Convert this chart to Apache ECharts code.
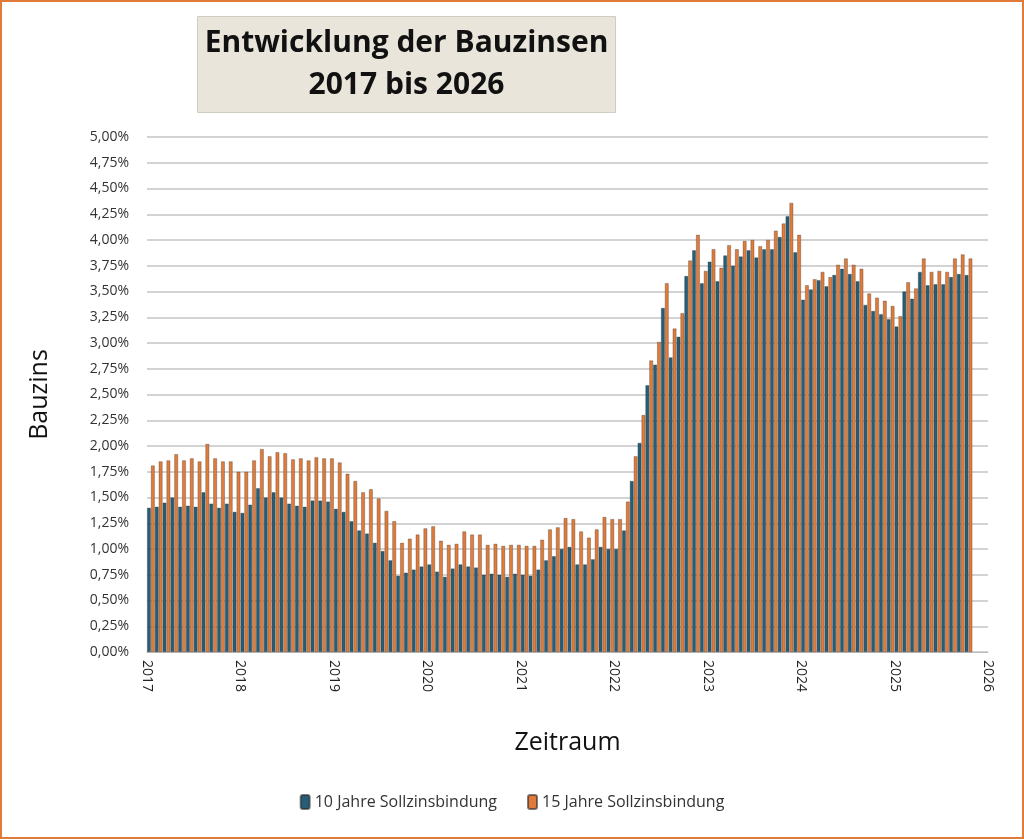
<!DOCTYPE html>
<html>
<head>
<meta charset="utf-8">
<script src="https://cdn.jsdelivr.net/npm/echarts@6/dist/echarts.min.js"></script>
<style>
  html, body { margin: 0; padding: 0; background: #fff; }
  #chart { width: 1024px; height: 839px; box-sizing: border-box; border: 2px solid #e07b39; }
</style>
</head>
<body>
<div id="chart"></div>
<script>
// Monatswerte Jan 2017 - Okt 2025 (Prozent)
var zins10 = [
  1.40,1.41,1.45,1.50,1.41,1.42,1.41,1.55,1.44,1.40,1.44,1.36,
  1.35,1.43,1.59,1.50,1.55,1.50,1.44,1.42,1.41,1.47,1.47,1.46,
  1.39,1.36,1.27,1.18,1.15,1.06,0.98,0.89,0.74,0.77,0.80,0.83,
  0.85,0.78,0.73,0.81,0.85,0.83,0.82,0.75,0.76,0.75,0.73,0.76,
  0.75,0.74,0.80,0.89,0.93,1.00,1.02,0.85,0.85,0.90,1.02,1.00,
  1.00,1.18,1.66,2.03,2.59,2.79,3.34,2.86,3.06,3.65,3.90,3.58,
  3.79,3.60,3.85,3.75,3.84,3.90,3.83,3.91,3.91,4.03,4.23,3.88,
  3.42,3.52,3.61,3.55,3.66,3.72,3.67,3.60,3.37,3.31,3.28,3.23,
  3.16,3.50,3.43,3.69,3.56,3.57,3.57,3.64,3.67,3.66
];
var zins15 = [
  1.81,1.85,1.86,1.92,1.86,1.88,1.85,2.02,1.88,1.85,1.85,1.75,
  1.75,1.86,1.97,1.90,1.94,1.93,1.87,1.88,1.86,1.89,1.88,1.88,
  1.84,1.73,1.66,1.55,1.58,1.49,1.37,1.27,1.06,1.10,1.14,1.20,
  1.22,1.08,1.04,1.05,1.17,1.14,1.14,1.04,1.05,1.03,1.04,1.04,
  1.03,1.03,1.09,1.19,1.21,1.30,1.29,1.17,1.11,1.19,1.31,1.29,
  1.29,1.46,1.90,2.30,2.83,3.01,3.58,3.14,3.29,3.80,4.05,3.70,
  3.91,3.73,3.95,3.91,3.99,4.00,3.94,4.00,4.09,4.16,4.36,4.05,
  3.56,3.62,3.69,3.64,3.76,3.82,3.76,3.72,3.48,3.44,3.41,3.36,
  3.26,3.59,3.53,3.82,3.69,3.70,3.69,3.82,3.86,3.82
];
var startYear = 2017;
var monthCount = 108;

function pairs(arr) {
  return arr.map(function (v, i) { return [i + 0.5, v]; });
}

var chart = echarts.init(document.getElementById('chart'));
var barStyle = { borderColor: 'rgba(40,40,40,0.6)', borderWidth: 0.5 };

chart.setOption({
  animation: false,
  textStyle: { fontFamily: 'Open Sans, sans-serif' },
  graphic: [{
    type: 'group', left: 195, top: 14,
    children: [
      { type: 'rect', shape: { width: 418, height: 96 },
        style: { fill: '#e9e5db', stroke: '#d0ccc2', lineWidth: 1 } },
      { type: 'text', x: 209, y: 48,
        style: { text: 'Entwicklung der Bauzinsen\n2017 bis 2026', align: 'center', verticalAlign: 'middle',
                 font: 'bold 30px "Open Sans", sans-serif', fill: '#111', lineHeight: 42 } }
    ]
  }],
  grid: { left: 145, right: 34, top: 135, bottom: 185 },
  legend: {
    bottom: 22, left: 'center', itemWidth: 9, itemHeight: 14, itemGap: 30,
    textStyle: { fontSize: 16, color: '#333' },
    data: ['10 Jahre Sollzinsbindung', '15 Jahre Sollzinsbindung']
  },
  xAxis: {
    type: 'value', min: 0, max: monthCount, interval: 12,
    name: 'Zeitraum', nameLocation: 'middle', nameGap: 78,
    nameTextStyle: { fontSize: 25, color: '#111' },
    axisLine: { show: true, lineStyle: { color: '#bbb' } },
    axisTick: { show: false },
    splitLine: { show: false },
    axisLabel: { rotate: -90, fontSize: 14, color: '#222', margin: 8,
                 formatter: function (v) { return String(startYear + v / 12); } }
  },
  yAxis: {
    type: 'value', min: 0, max: 5, interval: 0.25,
    name: 'Bauzins', nameLocation: 'middle', nameGap: 95,
    nameTextStyle: { fontSize: 25, color: '#111' },
    axisLine: { show: false }, axisTick: { show: false },
    splitLine: { lineStyle: { color: '#c4c4c4', width: 1.5 } },
    axisLabel: { fontSize: 14, color: '#333', margin: 18,
                 formatter: function (v) { return v.toFixed(2).replace('.', ',') + '%'; } }
  },
  series: [
    { name: '10 Jahre Sollzinsbindung', type: 'bar', data: pairs(zins10),
      barWidth: 3.7, barGap: '5%', itemStyle: Object.assign({ color: '#265e78' }, barStyle) },
    { name: '15 Jahre Sollzinsbindung', type: 'bar', data: pairs(zins15),
      barWidth: 3.7, itemStyle: Object.assign({ color: '#e07b39' }, barStyle) }
  ]
});
</script>
</body>
</html>
